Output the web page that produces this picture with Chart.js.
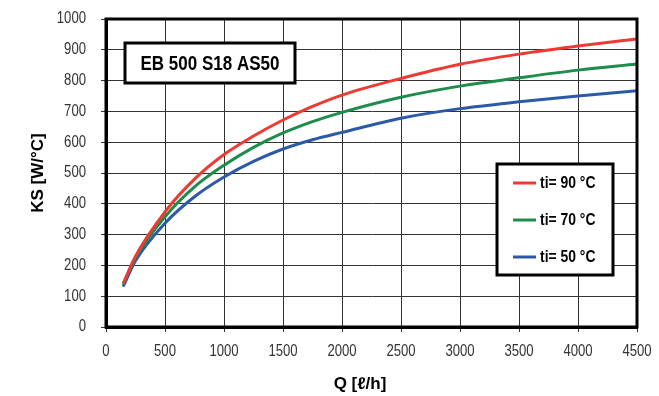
<!DOCTYPE html>
<html lang="en">
<head>
    <meta charset="UTF-8">
    <title>EB 500 S18 AS50</title>
    <style>
        html, body { margin: 0; padding: 0; background: #fff; }
        #wrap { width: 659px; height: 396px; }
    </style>
</head>
<body>
    <div id="wrap"><canvas id="myChart"></canvas></div>
    <script src="https://cdn.jsdelivr.net/npm/chart.js@4/dist/chart.umd.min.js"></script>
    <script>
        // flow rate Q [l/h]
        var flowQ = [150, 250, 500, 750, 1000, 1250, 1500, 1750, 2000, 2500, 3000, 3500, 4000, 4500];
        // KS [W/°C] per inlet temperature
        var ks90 = [145, 230, 374, 480, 560, 620, 672, 716, 753, 807, 853, 886, 912, 935];
        var ks70 = [142, 225, 358, 455, 525, 583, 630, 667, 697, 746, 782, 809, 834, 854];
        var ks50 = [135, 215, 337, 423, 487, 538, 578, 608, 632, 678, 709, 731, 750, 767];
        var seriesLabels = ['ti= 90 °C', 'ti= 70 °C', 'ti= 50 °C'];
        var seriesColors = ['#ee3a33', '#1e8c4a', '#2c5aa8'];
        var chartTitle = 'EB 500 S18 AS50';
        var xTitle = 'Q [ℓ/h]';

        var family = "'Liberation Sans', Arial, sans-serif";

        function toPoints(values) {
            return values.map(function(v, i) { return { x: flowQ[i], y: v }; });
        }

        // no condensed face is installed, so squeeze text horizontally round its anchor
        function squeezeFor(font) {
            if (/bold 17px/.test(font)) return 1;      // axis titles
            if (/bold 21px/.test(font)) return 0.81;   // title box
            if (/bold 16px/.test(font)) return 0.87;   // legend entries
            return 0.82;                               // tick labels
        }

        var ctx = document.getElementById('myChart').getContext('2d');
        var rawFillText = ctx.fillText;
        ctx.fillText = function(text, x, y) {
            var k = squeezeFor(this.font);
            this.save();
            this.translate(x, y);
            this.scale(k, 1);
            rawFillText.call(this, text, 0, 0);
            this.restore();
        };

        // keep the plot area where the layout padding puts it
        function noLabelPadding(s) {
            s.paddingTop = 0;
            s.paddingBottom = 0;
            s.paddingLeft = 0;
            s.paddingRight = 0;
        }

        // frame round the plot, the title box, the legend box, and the x title (sits left of centre)
        var boxesPlugin = {
            id: 'boxes',
            afterDraw: function(chart) {
                var c = chart.ctx;
                var a = chart.chartArea;
                c.save();
                c.strokeStyle = '#000';
                c.lineWidth = 3;
                c.strokeRect(a.left, a.top, a.right - a.left, a.bottom - a.top);

                c.fillStyle = '#000';
                c.font = 'bold 17px ' + family;
                c.textAlign = 'center';
                c.textBaseline = 'middle';
                c.fillText(xTitle, 360, 384);

                // title box
                c.fillStyle = '#fff';
                c.fillRect(125, 43, 170, 40);
                c.strokeRect(125, 43, 170, 40);
                c.fillStyle = '#000';
                c.font = 'bold 21px ' + family;
                c.fillText(chartTitle, 210, 64);

                // legend box
                c.fillStyle = '#fff';
                c.fillRect(497, 164, 116, 111);
                c.strokeRect(497, 164, 116, 111);
                c.font = 'bold 16px ' + family;
                c.textAlign = 'left';
                chart.data.datasets.forEach(function(ds, i) {
                    var y = 183 + i * 37;
                    c.strokeStyle = ds.borderColor;
                    c.lineWidth = 3;
                    c.beginPath();
                    c.moveTo(513, y);
                    c.lineTo(536, y);
                    c.stroke();
                    c.fillStyle = '#000';
                    c.fillText(ds.label, 540, y + 1);
                });
                c.restore();
            }
        };

        var myChart = new Chart(ctx, {
            type: 'line',
            data: {
                datasets: [ks90, ks70, ks50].map(function(vals, i) {
                    return {
                        label: seriesLabels[i],
                        data: toPoints(vals),
                        borderColor: seriesColors[i],
                        backgroundColor: seriesColors[i],
                        borderWidth: 3,
                        pointRadius: 0,
                        cubicInterpolationMode: 'monotone',
                        borderCapStyle: 'round',
                        fill: false
                    };
                })
            },
            options: {
                responsive: true,
                maintainAspectRatio: false,
                animation: false,
                layout: { padding: { top: 19, right: 22, left: 0, bottom: 0 } },
                plugins: {
                    legend: { display: false },
                    tooltip: { enabled: false }
                },
                scales: {
                    x: {
                        type: 'linear',
                        min: 0,
                        max: 4500,
                        afterFit: function(s) { s.height = 69; noLabelPadding(s); },
                        ticks: {
                            stepSize: 500,
                            color: '#333',
                            padding: 10,
                            maxRotation: 0,
                            callback: function(v) { return String(v); },
                            font: { family: family, size: 16 }
                        },
                        grid: { color: '#333', lineWidth: 1, tickLength: 5 },
                        border: { color: '#000', width: 3 }
                    },
                    y: {
                        min: 0,
                        max: 1000,
                        afterFit: function(s) { s.width = 106; noLabelPadding(s); },
                        ticks: {
                            stepSize: 100,
                            color: '#333',
                            padding: 15,
                            callback: function(v) { return String(v); },
                            font: { family: family, size: 16 }
                        },
                        grid: { color: '#333', lineWidth: 1, tickLength: 5 },
                        border: { color: '#000', width: 3 },
                        title: {
                            display: true,
                            text: 'KS [W/°C]',
                            color: '#000',
                            padding: { top: 28, bottom: 0 },
                            font: { family: family, size: 17, weight: 'bold' }
                        }
                    }
                }
            },
            plugins: [boxesPlugin]
        });
    </script>
</body>
</html>
